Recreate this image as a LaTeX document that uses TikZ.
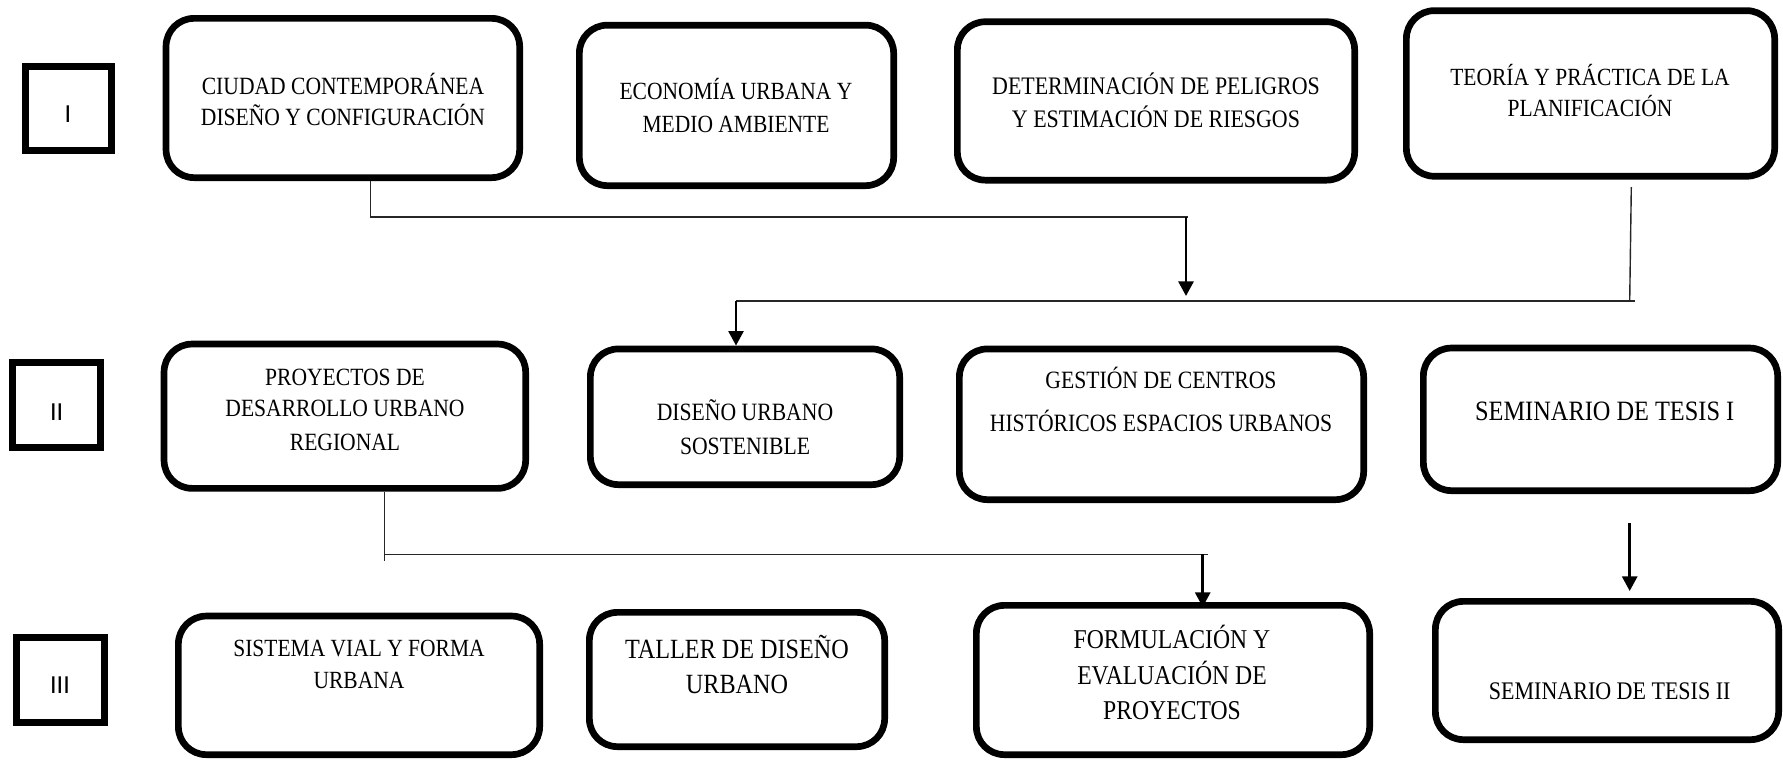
\documentclass[tikz,border=0pt]{standalone}
\usepackage{fontspec}
\setmainfont{Liberation Serif}[FakeStretch=0.87]
\newfontfamily\romanfont{Carlito}
\usetikzlibrary{arrows.meta}
\newcommand\myfs[1]{\fontsize{#1}{#1}\selectfont}
\begin{document}
\begin{tikzpicture}[x=0.5pt,y=-0.5pt,
  rbox/.style={draw, line width=3.35pt, rounded corners=14pt, inner sep=0pt},
  nbox/.style={draw, line width=3.4pt, inner sep=0pt},
  lbl/.style={anchor=base, inner sep=0pt},
  thinline/.style={line width=0.7pt, draw=black!85},
  arr/.style={line width=1.35pt, -{Triangle[width=7.5pt,length=7.3pt]}}]
\useasboundingbox[fill=white] (0,0) rectangle (1783,761);

% roman numeral boxes
\node[nbox, minimum width=43.1pt, minimum height=42.1pt] (r1) at (68.3,108.5) {};
\node[nbox, minimum width=44pt, minimum height=42.5pt] (r2) at (56.65,405.15) {};
\node[nbox, minimum width=43.85pt, minimum height=42.5pt] (r3) at (60.5,680.15) {};
\node[lbl, font=\romanfont\myfs{13pt}] (l1) at (68,122.7) {I};
\node[lbl, font=\romanfont\myfs{13pt}] (l2) at (56.7,420) {II};
\node[lbl, font=\romanfont\myfs{13pt}] (l3) at (60,693.3) {III};

% row I
\node[rbox, minimum width=176.8pt, minimum height=79.65pt] (b1) at (342.85,98) {};
\node[rbox, minimum width=157.15pt, minimum height=80.25pt] (b2) at (736.5,105.4) {};
\node[rbox, minimum width=198.65pt, minimum height=79.2pt] (b3) at (1156,100.95) {};
\node[rbox, minimum width=184.15pt, minimum height=82.8pt] (b4) at (1590.5,93.45) {};
\node[lbl, font=\myfs{12.4pt}] (t1a) at (343,94.3) {CIUDAD CONTEMPORÁNEA};
\node[lbl, font=\myfs{12.4pt}] (t1b) at (343,125) {DISEÑO Y CONFIGURACIÓN};
\node[lbl, font=\myfs{12.35pt}] (t2a) at (736,99.5) {ECONOMÍA URBANA Y};
\node[lbl, font=\myfs{12.35pt}] (t2b) at (736,132) {MEDIO AMBIENTE};
\node[lbl, font=\myfs{12.6pt}] (t3a) at (1156,94.7) {DETERMINACIÓN DE PELIGROS};
\node[lbl, font=\myfs{12.6pt}] (t3b) at (1156,127) {Y ESTIMACIÓN DE RIESGOS};
\node[lbl, font=\myfs{12.35pt}] (t4a) at (1590,85) {TEORÍA Y PRÁCTICA DE LA};
\node[lbl, font=\myfs{12.35pt}] (t4b) at (1590,116.5) {PLANIFICACIÓN};

% row II
\node[rbox, minimum width=180.8pt, minimum height=72.15pt] (c1) at (344.85,416.2) {};
\node[rbox, minimum width=154.65pt, minimum height=67.85pt] (c2) at (745,416.8) {};
\node[rbox, minimum width=202.15pt, minimum height=75.35pt] (c3) at (1161.5,424.3) {};
\node[rbox, minimum width=177.15pt, minimum height=71.3pt] (c4) at (1600.5,419.35) {};
\node[lbl, font=\myfs{12.4pt}] (t5a) at (345,385) {PROYECTOS DE};
\node[lbl, font=\myfs{12.4pt}] (t5b) at (345,416.7) {DESARROLLO URBANO};
\node[lbl, font=\myfs{12.4pt}] (t5c) at (345,450) {REGIONAL};
\node[lbl, font=\myfs{12.45pt}] (t6a) at (745,420) {DISEÑO URBANO};
\node[lbl, font=\myfs{12.45pt}] (t6b) at (745,454) {SOSTENIBLE};
\node[lbl, font=\myfs{12.45pt}] (t7a) at (1161,388) {GESTIÓN DE CENTROS};
\node[lbl, font=\myfs{12.45pt}] (t7b) at (1161,431) {HISTÓRICOS ESPACIOS URBANOS};
\node[lbl, font=\myfs{14pt}] (t8) at (1604.7,420) {SEMINARIO DE TESIS I};

% row III
\node[rbox, minimum width=180.65pt, minimum height=69.3pt] (d1) at (359,685.35) {};
\node[rbox, minimum width=147.65pt, minimum height=67.15pt] (d2) at (737,679.5) {};
\node[rbox, minimum width=196.65pt, minimum height=74.65pt] (d3) at (1173,680) {};
\node[rbox, minimum width=171.65pt, minimum height=69.15pt] (d4) at (1607,670.5) {};
\node[lbl, font=\myfs{12.35pt}] (t9a) at (359,656.7) {SISTEMA VIAL Y FORMA};
\node[lbl, font=\myfs{12.35pt}] (t9b) at (359,688.3) {URBANA};
\node[lbl, font=\myfs{13.9pt}] (t10a) at (737,658) {TALLER DE DISEÑO};
\node[lbl, font=\myfs{13.9pt}] (t10b) at (737,693) {URBANO};
\node[lbl, font=\myfs{13.6pt}] (t11a) at (1172,648) {FORMULACIÓN Y};
\node[lbl, font=\myfs{13.6pt}] (t11b) at (1172,684.5) {EVALUACIÓN DE};
\node[lbl, font=\myfs{13.6pt}] (t11c) at (1172,719.4) {PROYECTOS};
\node[lbl, font=\myfs{12.65pt}] (t12) at (1609.7,699) {SEMINARIO DE TESIS II};

% connectors row I -> II
\coordinate (j1) at (370.5,217);
\coordinate (j2) at (1188,217);
\coordinate (a1s) at (1186,217);
\coordinate (a1e) at (1186,296);
\draw[thinline] (b1.south -| j1) -- (j1) -- (j2);
\draw[arr] (a1s) -- (a1e);

\coordinate (k0) at (1631.3,187);
\coordinate (k1) at (1629.7,301);
\coordinate (k2) at (1634.7,301);
\coordinate (k3) at (736,301);
\draw[thinline] (k0) -- (k1);
\draw[thinline] (k2) -- (k3);
\draw[arr] (k3) -- (c2.north -| k3);

% connectors row II -> III
\coordinate (m1) at (384.3,554.3);
\coordinate (m0) at (384.3,561);
\coordinate (m2) at (1208,554.3);
\coordinate (a3s) at (1202.7,554.3);
\coordinate (a3e) at (1202.7,607);
\draw[thinline] (c1.south -| m1) -- (m0);
\draw[thinline] (m1) -- (m2);
\draw[arr] (a3s) -- (a3e);

\coordinate (a4s) at (1629.7,523);
\coordinate (a4e) at (1629.7,591);
\draw[arr] (a4s) -- (a4e);
\end{tikzpicture}
\end{document}
